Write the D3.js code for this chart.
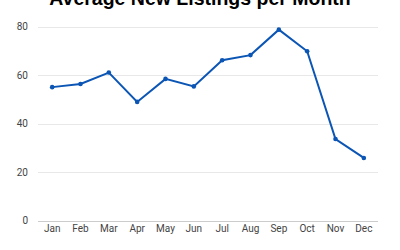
<!DOCTYPE html>
<html>
<head>
<meta charset="utf-8">
<script src="https://cdn.jsdelivr.net/npm/d3@7"></script>
<style>
  body { margin: 0; background: #fff; }
  svg { display: block; font-family: Roboto, Arial, sans-serif; }
</style>
</head>
<body>
<script>
const months = ['Jan', 'Feb', 'Mar', 'Apr', 'May', 'Jun', 'Jul', 'Aug', 'Sep', 'Oct', 'Nov', 'Dec'];
const listings = [55, 56.3, 61, 48.9, 58.4, 55.3, 66.1, 68.2, 78.7, 69.8, 33.6, 25.8];
const yTicks = [0, 20, 40, 60, 80];

const width = 400;
const height = 250;
const margin = { top: 26.5, right: 22, bottom: 29.5, left: 38 };

const svg = d3.select('body')
  .append('svg')
  .attr('width', width)
  .attr('height', height);

const xScale = d3.scaleBand()
  .domain(months)
  .range([margin.left, width - margin.right]);

const yScale = d3.scaleLinear()
  .domain([0, 80])
  .range([height - margin.bottom, margin.top]);

// gridlines
svg.append('g')
  .selectAll('line')
  .data(yTicks)
  .enter()
  .append('line')
  .attr('x1', margin.left)
  .attr('x2', width - margin.right)
  .attr('y1', d => Math.round(yScale(d)) + 0.5)
  .attr('y2', d => Math.round(yScale(d)) + 0.5)
  .attr('stroke', d => d === 0 ? '#cccccc' : '#e8e8e8')
  .attr('stroke-width', 1);

const yAxis = d3.axisLeft(yScale)
  .tickValues(yTicks)
  .tickSize(0)
  .tickPadding(10);

svg.append('g')
  .attr('transform', `translate(${margin.left}, 0)`)
  .call(yAxis)
  .call(g => g.select('.domain').remove())
  .selectAll('text')
  .style('font-size', '10px')
  .style('font-family', 'Roboto, Arial, sans-serif')
  .attr('fill', '#444');

const xAxis = d3.axisBottom(xScale)
  .tickSize(0)
  .tickPadding(4);

svg.append('g')
  .attr('transform', `translate(0, ${height - margin.bottom})`)
  .call(xAxis)
  .call(g => g.select('.domain').remove())
  .selectAll('text')
  .style('font-size', '10px')
  .style('font-family', 'Roboto, Arial, sans-serif')
  .attr('fill', '#444');

const line = d3.line()
  .x((d, i) => xScale(months[i]) + xScale.bandwidth() / 2)
  .y(d => yScale(d));

svg.append('path')
  .datum(listings)
  .attr('fill', 'none')
  .attr('stroke', '#0b55b5')
  .attr('stroke-width', 2)
  .attr('d', line);

svg.selectAll('.dot').data(listings)
  .enter()
  .append('circle')
  .attr('class', 'dot')
  .attr('cx', (d, i) => xScale(months[i]) + xScale.bandwidth() / 2)
  .attr('cy', d => yScale(d))
  .attr('r', 2.3)
  .attr('fill', '#0b55b5');

svg.append('text')
  .attr('x', width / 2)
  .attr('y', 5)
  .style('text-anchor', 'middle')
  .style('font-size', '19.5px')
  .style('font-weight', 'bold')
  .style('font-family', 'Arial, "Liberation Sans", sans-serif')
  .attr('fill', '#000')
  .text('Average New Listings per Month');
</script>
</body>
</html>
